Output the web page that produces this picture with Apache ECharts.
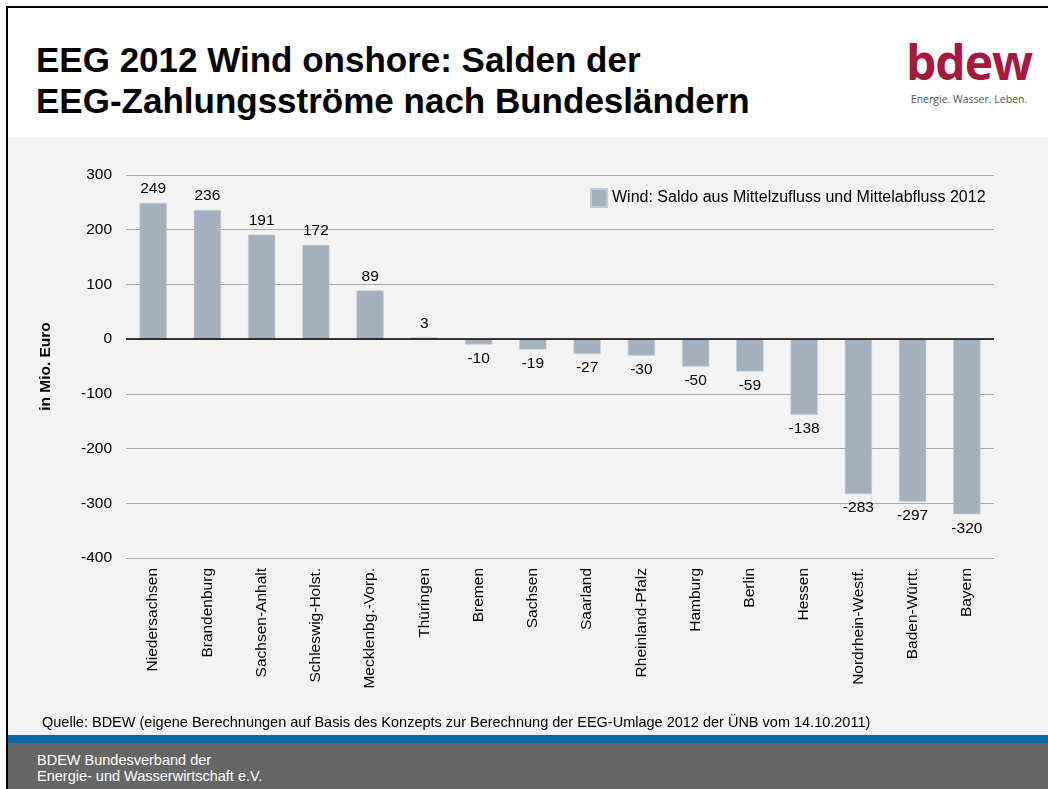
<!DOCTYPE html>
<html>
<head>
<meta charset="utf-8">
<title>EEG 2012 Wind onshore</title>
<script src="https://cdn.jsdelivr.net/npm/echarts@6/dist/echarts.min.js"></script>
<style>
  html, body { margin:0; padding:0; background:#fff; }
  #slide { position:relative; width:1048px; height:789px; overflow:hidden; background:#fff;
           font-family:'Liberation Sans', Arial, Helvetica, sans-serif; }
  #rahmen { position:absolute; left:6px; top:6px; right:0; bottom:0;
            border-left:2px solid #000; border-top:2px solid #000; }
  #titel { position:absolute; left:36px; top:39px; font-size:35px; font-weight:bold;
           line-height:41px; color:#000; white-space:nowrap; }
  #logo { position:absolute; left:904px; top:36px; width:130px; text-align:center; }
  #logo .b { font-size:48px; font-weight:700; color:#a6193c; line-height:52px; letter-spacing:-1px; font-family:'Open Sans','Liberation Sans',sans-serif; }
  #logo .s { font-size:10.5px; color:#555; margin-top:4px; font-family:'Open Sans','Liberation Sans',sans-serif; }
  #grau { position:absolute; left:8px; top:137px; width:1040px; height:598px; background:#f3f3f3; }
  #userChart { position:absolute; left:0; top:0; width:1040px; height:598px; }
  #quelle { position:absolute; left:34px; top:577px; font-size:14.5px; color:#000; white-space:nowrap; }
  #blau { position:absolute; left:8px; top:735px; width:1040px; height:8px; background:#0066aa; }
  #fuss { position:absolute; left:8px; top:743px; width:1040px; height:46px; background:#666; }
  #fuss div { position:absolute; left:29px; top:9px; font-size:14.5px; line-height:16px; color:#fff; }
</style>
</head>
<body>
<div id="slide">
  <div id="rahmen"></div>
  <div id="titel">EEG 2012 Wind onshore: Salden der<br>EEG-Zahlungsströme nach Bundesländern</div>
  <div id="logo"><div class="b">bdew</div><div class="s">Energie. Wasser. Leben.</div></div>
  <div id="grau">
    <div id="userChart"></div>
    <div id="quelle">Quelle: BDEW (eigene Berechnungen auf Basis des Konzepts zur Berechnung der EEG-Umlage 2012 der ÜNB vom 14.10.2011)</div>
  </div>
  <div id="blau"></div>
  <div id="fuss"><div>BDEW Bundesverband der<br>Energie- und Wasserwirtschaft e.V.</div></div>
</div>
<script>
// Bundesländer (x-Achse)
var laender = ['Niedersachsen', 'Brandenburg', 'Sachsen-Anhalt', 'Schleswig-Holst.', 'Mecklenbg.-Vorp.',
  'Thüringen', 'Bremen', 'Sachsen', 'Saarland', 'Rheinland-Pfalz', 'Hamburg', 'Berlin', 'Hessen',
  'Nordrhein-Westf.', 'Baden-Württ.', 'Bayern'];
// Saldo in Mio. Euro
var saldo = [249, 236, 191, 172, 89, 3, -10, -19, -27, -30, -50, -59, -138, -283, -297, -320];
var serieName = 'Wind: Saldo aus Mittelzufluss und Mittelabfluss 2012';

var schrift = "'Liberation Sans', Arial, Helvetica, sans-serif";
var barColor = '#a5b0be';

function chartLaden(){
  var myChart = echarts.init(document.getElementById('userChart'));
  // Beschriftung oben bei positiven, unten bei negativen Werten
  var daten = [];
  for (var i = 0; i < saldo.length; i++) {
    daten.push({
      value: saldo[i],
      label: { position: saldo[i] >= 0 ? 'top' : 'bottom' }
    });
  }
  var option = {
    animation: false,
    textStyle: { fontFamily: schrift },
    legend: {
      data: [serieName],
      left: 577,
      top: 46,
      icon: 'rect',
      itemWidth: 16,
      itemHeight: 18,
      itemGap: 8,
      textStyle: { fontSize: 16, color: '#000', fontFamily: schrift }
    },
    grid: { left: 118, right: 54, top: 38, bottom: 177 },
    xAxis: [{
      type: 'category',
      data: laender,
      axisLine: { show: false },
      axisTick: { show: false },
      axisLabel: { rotate: 90, interval: 0, margin: 10, fontSize: 15.5, color: '#000', fontFamily: schrift }
    }],
    yAxis: [{
      type: 'value',
      min: -400,
      max: 300,
      interval: 100,
      name: 'in Mio. Euro',
      nameLocation: 'middle',
      nameGap: 72,
      nameTextStyle: { fontSize: 15.5, fontWeight: 'bold', color: '#000', fontFamily: schrift },
      axisLine: { show: false },
      axisTick: { show: false },
      axisLabel: { fontSize: 15.5, color: '#000', margin: 14, fontFamily: schrift },
      splitLine: { lineStyle: { color: '#a6a6a6', width: 1 } }
    }],
    series: [{
      name: serieName,
      type: 'bar',
      barWidth: '50%',
      itemStyle: { color: barColor, borderColor: '#c2cad4', borderWidth: 0.5 },
      label: { show: true, distance: 6, fontSize: 15.5, color: '#000', fontFamily: schrift },
      data: daten,
      markLine: {
        silent: true,
        symbol: 'none',
        label: { show: false },
        lineStyle: { color: '#000', type: 'solid', width: 1.5 },
        data: [{ yAxis: 0 }]
      }
    }]
  };
  myChart.setOption(option);
}
chartLaden();
</script>
</body>
</html>
